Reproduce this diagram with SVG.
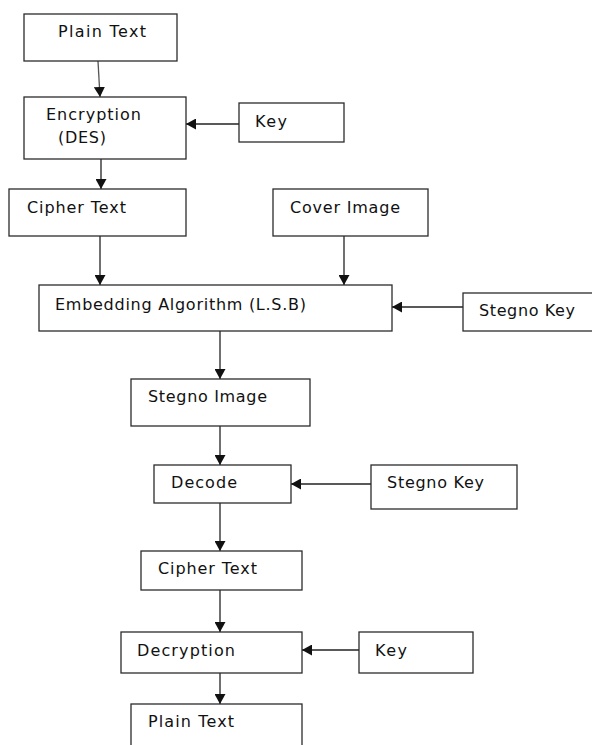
<svg xmlns="http://www.w3.org/2000/svg" width="592" height="745" viewBox="0 0 592 745">
<style>
.box{fill:#fff;stroke:#2b2b2b;stroke-width:1.3}
.lbl{font-family:"DejaVu Sans","Verdana",sans-serif;font-size:16px;fill:#111}
.con{stroke:#222;stroke-width:1.3;fill:none;marker-end:url(#ah)}
</style>
<defs>
<marker id="ah" markerUnits="userSpaceOnUse" markerWidth="10" markerHeight="11" viewBox="0 0 10 11" refX="10" refY="5.5" orient="auto">
<path d="M0,0 L10,5.5 L0,11 z" fill="#111"/>
</marker>
</defs>
<rect width="592" height="745" fill="#fff"/>
<g id="connectors">
<line class="con" x1="98" y1="61" x2="100" y2="97" style="stroke:#555"/>
<line class="con" x1="239" y1="124" x2="186" y2="124"/>
<line class="con" x1="101" y1="159" x2="101" y2="189"/>
<line class="con" x1="100" y1="236" x2="100" y2="285"/>
<line class="con" x1="344" y1="236" x2="344" y2="285"/>
<line class="con" x1="463" y1="307" x2="392" y2="307"/>
<line class="con" x1="220" y1="331" x2="220" y2="379"/>
<line class="con" x1="220" y1="426" x2="220" y2="465"/>
<line class="con" x1="371" y1="484" x2="291" y2="484"/>
<line class="con" x1="220" y1="503" x2="220" y2="551"/>
<line class="con" x1="220" y1="590" x2="220" y2="632"/>
<line class="con" x1="359" y1="650" x2="302" y2="650"/>
<line class="con" x1="220" y1="673" x2="220" y2="704"/>
</g>
<g id="plain-text-1"><rect class="box" x="24" y="14" width="153" height="47"/><text class="lbl" x="58" y="37" textLength="88" lengthAdjust="spacing">Plain Text</text></g>
<g id="encryption"><rect class="box" x="24" y="97" width="162" height="62"/><text class="lbl" x="46" y="120" textLength="95" lengthAdjust="spacing">Encryption</text><text class="lbl" x="58" y="143" textLength="48" lengthAdjust="spacing">(DES)</text></g>
<g id="key-1"><rect class="box" x="239" y="103" width="105" height="39"/><text class="lbl" x="255" y="127" textLength="32" lengthAdjust="spacing">Key</text></g>
<g id="cipher-text-1"><rect class="box" x="9" y="189" width="177" height="47"/><text class="lbl" x="27" y="213" textLength="99" lengthAdjust="spacing">Cipher Text</text></g>
<g id="cover-image"><rect class="box" x="273" y="189" width="155" height="47"/><text class="lbl" x="290" y="213" textLength="110" lengthAdjust="spacing">Cover Image</text></g>
<g id="embedding"><rect class="box" x="39" y="285" width="353" height="46"/><text class="lbl" x="55" y="310" textLength="251" lengthAdjust="spacing">Embedding Algorithm (L.S.B)</text></g>
<g id="stegno-key-1"><rect class="box" x="463" y="293" width="140" height="38"/><text class="lbl" x="479" y="316" textLength="96" lengthAdjust="spacing">Stegno Key</text></g>
<g id="stegno-image"><rect class="box" x="131" y="379" width="179" height="47"/><text class="lbl" x="148" y="402" textLength="119" lengthAdjust="spacing">Stegno Image</text></g>
<g id="decode"><rect class="box" x="154" y="465" width="137" height="38"/><text class="lbl" x="171" y="488" textLength="66" lengthAdjust="spacing">Decode</text></g>
<g id="stegno-key-2"><rect class="box" x="371" y="465" width="146" height="44"/><text class="lbl" x="387" y="488" textLength="97" lengthAdjust="spacing">Stegno Key</text></g>
<g id="cipher-text-2"><rect class="box" x="141" y="551" width="161" height="39"/><text class="lbl" x="158" y="574" textLength="99" lengthAdjust="spacing">Cipher Text</text></g>
<g id="decryption"><rect class="box" x="121" y="632" width="181" height="41"/><text class="lbl" x="137" y="656" textLength="98" lengthAdjust="spacing">Decryption</text></g>
<g id="key-2"><rect class="box" x="359" y="632" width="114" height="41"/><text class="lbl" x="375" y="656" textLength="32" lengthAdjust="spacing">Key</text></g>
<g id="plain-text-2"><rect class="box" x="131" y="704" width="171" height="50"/><text class="lbl" x="148" y="727" textLength="86" lengthAdjust="spacing">Plain Text</text></g>
</svg>
